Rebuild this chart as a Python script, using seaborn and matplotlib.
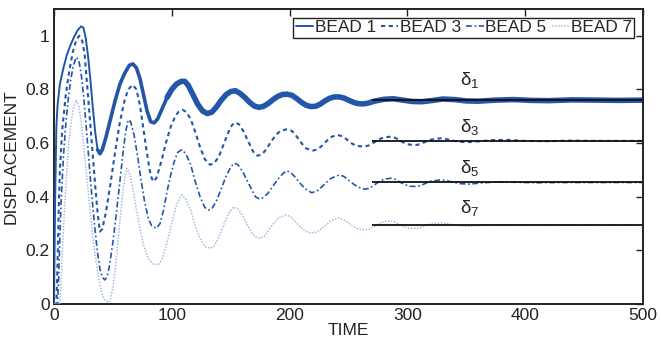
import matplotlib
matplotlib.use("Agg")
import matplotlib.pyplot as plt
import seaborn as sns
import pandas as pd

# ---------------- data ----------------
t_b1 = [0, 1, 2, 3, 5, 8, 11, 14, 17, 20, 23, 25, 27, 29, 31, 33, 35, 37, 39, 41, 44, 48, 52, 56, 60, 64, 67,
        70, 73, 76, 79, 82, 85, 88, 92, 96, 100, 104, 108, 111, 114, 118, 122, 126, 130, 134, 138, 142, 146,
        150, 154, 158, 162, 166, 170, 174, 178, 182, 186, 190, 194, 198, 202, 206, 210, 214, 218, 222, 226,
        230, 234, 238, 242, 246, 250, 254, 258, 262, 266, 272, 280, 288, 296, 304, 312, 320, 330, 340, 350,
        360, 375, 390, 405, 420, 440, 460, 480, 500]
y_b1 = [0.0, 0.40, 0.66, 0.74, 0.82, 0.88, 0.93, 0.965, 0.995, 1.02, 1.035, 1.03, 0.99, 0.92, 0.83, 0.73, 0.64,
        0.575, 0.56, 0.575, 0.62, 0.69, 0.76, 0.82, 0.86, 0.89, 0.895, 0.88, 0.84, 0.78, 0.72, 0.68, 0.675,
        0.69, 0.73, 0.77, 0.80, 0.82, 0.83, 0.83, 0.815, 0.78, 0.745, 0.72, 0.71, 0.715, 0.735, 0.76, 0.78,
        0.792, 0.795, 0.785, 0.77, 0.752, 0.738, 0.733, 0.737, 0.748, 0.762, 0.774, 0.781, 0.782, 0.778,
        0.766, 0.752, 0.741, 0.736, 0.737, 0.745, 0.757, 0.767, 0.772, 0.772, 0.768, 0.76, 0.752, 0.747,
        0.746, 0.748, 0.756, 0.763, 0.765, 0.76, 0.755, 0.754, 0.758, 0.764, 0.762, 0.757, 0.756, 0.76,
        0.762, 0.759, 0.758, 0.761, 0.76, 0.759, 0.76]

t_b3 = [0, 2, 3, 4, 5, 7, 10, 13, 16, 19, 21.5, 24, 26, 29, 31, 33, 35, 37, 39, 41, 44, 48, 52, 56, 60, 63, 66.8,
        70, 73, 76, 79, 82, 84.3, 87, 91, 95, 99, 103, 106, 109, 112, 116, 120, 124, 128, 132.4, 136, 140, 144,
        148, 151, 153.6, 157, 161, 165, 169, 172.6, 176, 180, 184, 188, 192, 198, 202, 206, 210, 214, 220, 224,
        228, 232, 236, 241, 245, 249, 253, 257, 264, 268, 272, 276, 280, 286, 290, 294, 298, 302, 308, 312,
        316, 320, 329, 335, 342, 350, 360, 372, 385, 400, 420, 440, 460, 480, 500]
y_b3 = [0.0, 0.0, 0.15, 0.35, 0.5, 0.65, 0.78, 0.87, 0.94, 0.985, 1.0, 0.98, 0.93, 0.77, 0.66, 0.55, 0.44, 0.34,
        0.27, 0.28, 0.34, 0.45, 0.57, 0.68, 0.76, 0.80, 0.817, 0.80, 0.74, 0.65, 0.56, 0.48, 0.456, 0.47, 0.53,
        0.60, 0.66, 0.70, 0.718, 0.724, 0.717, 0.69, 0.64, 0.585, 0.54, 0.519, 0.525, 0.55, 0.595, 0.64, 0.666,
        0.677, 0.67, 0.643, 0.605, 0.568, 0.553, 0.556, 0.575, 0.603, 0.628, 0.645, 0.652, 0.645, 0.625, 0.60,
        0.58, 0.572, 0.577, 0.592, 0.61, 0.624, 0.63, 0.625, 0.612, 0.598, 0.589, 0.587, 0.592, 0.603, 0.614,
        0.621, 0.624, 0.619, 0.608, 0.599, 0.594, 0.593, 0.598, 0.606, 0.613, 0.618, 0.613, 0.606, 0.603,
        0.606, 0.611, 0.612, 0.608, 0.607, 0.609, 0.608, 0.608, 0.608]

t_b5 = [0, 3, 4, 5, 6, 8, 10, 12, 14, 16, 18.7, 21, 23, 25, 27, 29, 31, 33, 35, 37, 39, 41, 43, 45, 47, 50, 53,
        56, 59, 61, 63, 65, 68, 71, 74, 77, 80, 83, 87, 90, 93, 96, 99, 102, 105, 108.4, 112, 116, 120, 124,
        128, 131, 134, 138, 142, 146, 150, 152.8, 156, 160, 164, 168, 171, 174.3, 178, 182, 186, 190, 194,
        197.5, 201, 205, 209, 213, 218.7, 223, 227, 231, 235, 242, 246, 250, 254, 258, 264, 268, 272, 276,
        280, 286, 290, 294, 298, 302, 308, 312, 316, 320, 329, 336, 344, 352, 362, 375, 390, 410, 430, 460, 500]
y_b5 = [0.0, 0.0, 0.1, 0.25, 0.38, 0.55, 0.67, 0.76, 0.83, 0.88, 0.92, 0.91, 0.86, 0.78, 0.68, 0.57, 0.46, 0.36,
        0.27, 0.19, 0.13, 0.10, 0.09, 0.10, 0.14, 0.23, 0.34, 0.46, 0.58, 0.645, 0.687, 0.68, 0.63, 0.55, 0.46,
        0.38, 0.32, 0.29, 0.282, 0.30, 0.35, 0.42, 0.48, 0.53, 0.565, 0.575, 0.56, 0.52, 0.455, 0.40, 0.36,
        0.35, 0.355, 0.385, 0.43, 0.475, 0.51, 0.525, 0.52, 0.495, 0.46, 0.425, 0.40, 0.392, 0.397, 0.415,
        0.44, 0.465, 0.485, 0.497, 0.49, 0.472, 0.45, 0.43, 0.415, 0.42, 0.435, 0.452, 0.468, 0.481, 0.476,
        0.462, 0.448, 0.436, 0.428, 0.432, 0.444, 0.456, 0.465, 0.469, 0.464, 0.454, 0.445, 0.439, 0.438,
        0.443, 0.451, 0.458, 0.463, 0.457, 0.449, 0.447, 0.451, 0.455, 0.454, 0.452, 0.453, 0.453, 0.453]

t_b7 = [0, 5, 6, 7, 8, 10, 12, 14, 16, 18.7, 21, 23, 25, 27, 29, 31, 33, 35, 37, 39, 41, 43, 46, 48, 50, 52, 54,
        56, 58, 60, 61.7, 64, 67, 70, 73, 76, 80, 84, 88.6, 92, 96, 100, 104, 108.4, 112, 116, 120, 124, 128,
        132.4, 136, 140, 144, 148, 152.2, 156, 160, 164, 168, 171, 175, 179, 183, 187, 191, 197, 201, 205, 209,
        213, 218.7, 223, 227, 231, 235, 241.4, 245, 249, 253, 257, 264, 268, 272, 276, 280, 285, 289, 293, 297,
        301, 308, 312, 316, 320, 329, 336, 344, 352, 362, 380, 400, 430, 460, 500]
y_b7 = [0.0, 0.0, 0.08, 0.18, 0.28, 0.44, 0.57, 0.66, 0.72, 0.76, 0.74, 0.68, 0.60, 0.51, 0.42, 0.33, 0.25, 0.18,
        0.12, 0.07, 0.035, 0.015, 0.005, 0.02, 0.06, 0.13, 0.22, 0.31, 0.40, 0.47, 0.506, 0.49, 0.43, 0.35,
        0.28, 0.22, 0.17, 0.15, 0.146, 0.17, 0.23, 0.30, 0.37, 0.407, 0.39, 0.35, 0.29, 0.245, 0.215, 0.208,
        0.215, 0.25, 0.295, 0.335, 0.361, 0.355, 0.33, 0.295, 0.265, 0.25, 0.245, 0.255, 0.28, 0.303, 0.322,
        0.332, 0.325, 0.307, 0.287, 0.272, 0.264, 0.268, 0.28, 0.295, 0.31, 0.32, 0.316, 0.305, 0.292, 0.282,
        0.276, 0.28, 0.29, 0.30, 0.307, 0.31, 0.306, 0.297, 0.289, 0.283, 0.282, 0.286, 0.293, 0.299, 0.302,
        0.298, 0.292, 0.29, 0.293, 0.296, 0.295, 0.294, 0.294, 0.294]

series_names = ["BEAD 1", "BEAD 3", "BEAD 5", "BEAD 7"]
delta_values = [0.761, 0.608, 0.453, 0.294]
delta_labels = [r"$\mathregular{\delta_1}$", r"$\mathregular{\delta_3}$",
                r"$\mathregular{\delta_5}$", r"$\mathregular{\delta_7}$"]
delta_t_start = 270
delta_t_end = 500
x_ticks = [0, 100, 200, 300, 400, 500]
y_ticks = [0, 0.2, 0.4, 0.6, 0.8, 1.0]

# ---------------- styling ----------------
sns.set_theme(style="white")
plt.rcParams["font.family"] = ["Liberation Sans", "DejaVu Sans"]
plt.rcParams["mathtext.fontset"] = "custom"
plt.rcParams["mathtext.rm"] = "Liberation Sans"

blue = "#2356a8"
light_blue = "#a3bbe2"

fig = plt.figure(figsize=(6.61, 3.42), dpi=100)
ax = fig.add_axes([0.0817, 0.111, 0.891, 0.863])

df1 = pd.DataFrame({"t": t_b1, "y": y_b1})
df3 = pd.DataFrame({"t": t_b3, "y": y_b3})
df5 = pd.DataFrame({"t": t_b5, "y": y_b5})
df7 = pd.DataFrame({"t": t_b7, "y": y_b7})

# high-frequency ripple band of bead 1 (drawn as thick strokes, no legend entry)
band_early = df1[(df1["t"] >= 36) & (df1["t"] <= 100)]
band_late = df1[df1["t"] >= 96]
ax.plot(band_early["t"], band_early["y"], color=blue, lw=2.6, solid_joinstyle="round", zorder=2)
ax.plot(band_late["t"], band_late["y"], color=blue, lw=4.0, solid_joinstyle="round", zorder=2)

sns.lineplot(data=df1, x="t", y="y", ax=ax, color=blue, lw=1.4, label=series_names[0],
             estimator=None, sort=False, zorder=3)
sns.lineplot(data=df3, x="t", y="y", ax=ax, color=blue, lw=1.5, label=series_names[1],
             estimator=None, sort=False, linestyle=(0, (2.0, 1.7)), zorder=3)
sns.lineplot(data=df5, x="t", y="y", ax=ax, color=blue, lw=1.2, label=series_names[2],
             estimator=None, sort=False, linestyle=(0, (3.5, 1.6, 1.0, 1.6)), zorder=3)
sns.lineplot(data=df7, x="t", y="y", ax=ax, color=light_blue, lw=1.1, label=series_names[3],
             estimator=None, sort=False, linestyle=(0, (1.0, 1.0)), zorder=3)

# asymptotic displacement lines and labels
label_y = [0.815, 0.643, 0.489, 0.340]
for dv, dl, ly in zip(delta_values, delta_labels, label_y):
    ax.hlines(dv, delta_t_start, delta_t_end, color="#111111", lw=1.3, zorder=4)
    ax.text(353, ly, dl, fontsize=13.5, ha="center", va="baseline", color="#222222")

ax.set_xlim(0, 500)
ax.set_ylim(0, 1.1)
ax.set_xticks(x_ticks)
ax.set_yticks(y_ticks)
ax.set_xticklabels([str(v) for v in x_ticks])
ax.set_yticklabels(["0", "0.2", "0.4", "0.6", "0.8", "1"])
ax.tick_params(direction="in", length=5, width=1, top=True, right=True, labelsize=12.5,
               colors="#222222", pad=3)
for s in ax.spines.values():
    s.set_color("#222222")
    s.set_linewidth(1.4)

ax.set_xlabel("TIME", fontsize=12.5, color="#222222", labelpad=0)
ax.set_ylabel("DISPLACEMENT", fontsize=12.5, color="#222222", labelpad=5)

leg = ax.legend(loc="upper right", ncol=4, fontsize=12.4, handlelength=1.0, handletextpad=0.1,
                columnspacing=0.3, borderpad=0.15, borderaxespad=0.5, fancybox=False,
                framealpha=1, edgecolor="#222222", frameon=True)
leg.get_frame().set_linewidth(1.0)

fig.savefig("out.png", dpi=100)
